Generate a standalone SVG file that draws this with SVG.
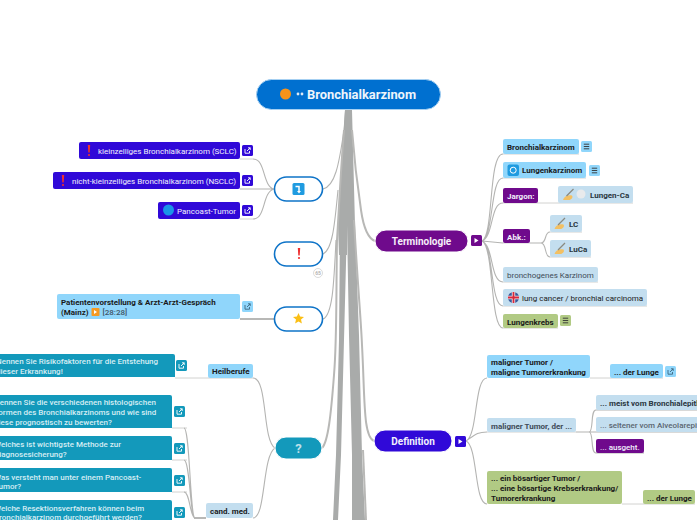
<svg xmlns="http://www.w3.org/2000/svg" width="697" height="520" viewBox="0 0 697 520">
<style>
text{font-family:"Roboto","Liberation Sans",sans-serif;font-size:8px;font-weight:500;fill:#1a1a1a}
.w{fill:#f2f0fc}.b{font-weight:700}.r{font-weight:400}.q{fill:#d6edf4}
.c{fill:none;stroke:#b4b4b2;stroke-width:1.1}.u{fill:none;stroke:#d2d2d0;stroke-width:1}.t{fill:#a9abaa}
.k{fill:none;stroke:#b8b8b6;stroke-width:2}
.blue{fill:#3009d8}.sky{fill:#90d6fb}.pale{fill:#c3deef}.pur{fill:#6f0a8c}.green{fill:#b1ca84}.teal{fill:#1399bb}
.bub{fill:#fff;stroke:#0f74c8;stroke-width:1.6}
.ic{fill:none;stroke:#fff;stroke-width:.9}
.ic2{fill:none;stroke:#3f6880;stroke-width:.9}
.d{fill:none;stroke:#333;stroke-width:.9}
</style>
<defs>
<g id="lnk"><rect width="11" height="11" rx="1.5"/><path class="ic" d="M3 4v4.2h4.5V6M5 6l3.2-3.2M6 2.800h2.200V5"/></g>
<g id="lnk2"><rect width="11" height="11" rx="1.5"/><path class="ic2" d="M3 4v4.2h4.5V6M5 6l3.2-3.2M6 2.800h2.200V5"/></g>
<g id="men"><rect width="11" height="11" rx="1.5"/><path class="d" d="M2.800 3.200h5.400M2.800 5.500h5.400M2.800 7.800h5.400"/></g>
<g id="hand"><path d="M0 11c1-4 5-5.500 9-4.500 1.500 2-1 4.500-3 4.500z" fill="#f3c063"/><path d="M3.500 7L10.500 0" stroke="#8a8a80" stroke-width="1.300"/></g>
</defs>
<g id="connectors">
<path class="t" d="M345 110h4l-2 115-3 115-3 115-3 65h-5l3-65 3-115 1-115 1-60z"/>
<path class="t" d="M347 110h5l3 115 4 110 3 120 3 65h-13l0-65-3-120-2-110z"/>
<path class="t" d="M345 110l-7 115 1 30h8l0-145z"/>
<path class="k" d="M344 130C340 180 339 210 337 240C336 300 337 340 334 375C331 415 328 442 322 448"/>
<path class="k" d="M352 130C355 170 358 190 361 210C363 224 367 238 375 241"/>
<path class="k" d="M354 220C358 290 361 320 362 345C365 400 363 436 374 441"/>
<path class="k" d="M363 450L366 520" stroke-width="1.400"/>
<path class="c" d="M344 130C339 165 335 186 323 189"/>
<path class="c" d="M338 190C335 220 333 250 323 254"/>
<path class="c" d="M336 240C334 280 333 315 323 319"/>
<path class="u" d="M240 159H253M240 219H253M175 378H253M172 428H187M172 460H187M172 492H187M579 154H503M586 178H503M530 243H503M598 282H503M647 306H503M558 328H503M633 203H503M582 232H550M591 257H550M590 378H663M576 432H487M622 504H695"/>
<path class="c" d="M274 189C262 186 266 159 253 159M274 189H240M274 189C262 192 266 219 253 219"/>
<path class="k" d="M274 319H240"/>
<path class="c" d="M275 448C262 440 268 378 253 378"/>
<path class="c" d="M275 448C262 456 266 518 253 518"/>
<path class="k" d="M206 518H194"/>
<path class="c" d="M195 518C190 518 190 428 184 428M195 518C190 518 190 460 184 460M195 518C190 518 190 492 184 492"/>
<path class="c" d="M482 241C494 236 488 154 503 154M482 241C494 236 490 178 503 178M482 241C494 236 490 203 503 203M482 241L503 243M482 241C494 246 490 282 503 282M482 241C494 246 490 306 503 306M482 241C494 246 490 328 503 328"/>
<path class="c" d="M530 243H541C547 243 544 232 550 232M541 243C547 243 544 257 550 257"/>
<path class="c" d="M466 441C478 436 474 378 487 378M466 441C476 434 478 432 487 432M466 441C478 446 474 504 487 504"/>
<path class="c" d="M576 432H589C594 432 590 410 596 410H697M589 432H697M589 432C594 432 590 453 596 453H644"/>
</g>
<g id="root"><rect x="256.500" y="79.500" width="184" height="30" rx="15" fill="#0070d0" stroke="#a6d0f2"/><circle cx="285.500" cy="94" r="5.500" fill="#f7931a"/><circle cx="298" cy="94" r="1.400" fill="#dfeaf5"/><circle cx="302" cy="94" r="1.400" fill="#dfeaf5"/><text x="307" y="98.500" style="font-size:12.900px;font-weight:700;fill:#eef5fb">Bronchialkarzinom</text></g>
<g id="n-icon"><rect class="bub" x="274.500" y="177" width="48" height="24" rx="12"/><rect x="292.500" y="183" width="12" height="12" rx="1.500" fill="#1f9be0"/><path d="M295.500 186.500h3.500v5" fill="none" stroke="#fff" stroke-width="1.500"/><path d="M297 191h4l-2 2.500z" fill="#fff"/></g>
<g id="n-excl"><rect class="bub" x="274.500" y="242" width="48" height="24" rx="12"/><path d="M297.800 248h2.400l-.5 7.500h-1.400z" fill="#ee3030"/><circle cx="299" cy="258" r="1.100" fill="#ee3030"/><circle cx="318" cy="273" r="4.500" fill="#fff" stroke="#ccc" stroke-width=".7"/><text x="318" y="275" text-anchor="middle" style="font-size:5px;fill:#aaa">65</text></g>
<g id="n-star"><rect class="bub" x="274.500" y="307" width="48" height="24" rx="12"/><path d="M298.500 313l1.600 3.600 3.900.4-3 2.600.9 3.800-3.400-2-3.400 2 .9-3.800-3-2.600 3.900-.4z" fill="#fbbf16"/></g>
<g id="n-sclc"><rect class="blue" x="79" y="142" width="161" height="17" rx="2"/><path d="M87.800 145h2.400l-.5 7.500h-1.400z" fill="#ee3030"/><circle cx="89" cy="155" r="1.100" fill="#ee3030"/><text class="w r" x="98" y="154">kleinzelliges Bronchialkarzinom (SCLC)</text><use href="#lnk" x="242" y="145" class="blue"/></g>
<g id="n-nsclc"><rect class="blue" x="53" y="172" width="187" height="17" rx="2"/><path d="M61.800 175h2.400l-.5 7.500h-1.400z" fill="#ee3030"/><circle cx="63" cy="185" r="1.100" fill="#ee3030"/><text class="w r" x="72" y="184">nicht-kleinzelliges Bronchialkarzinom (NSCLC)</text><use href="#lnk" x="242" y="175" class="blue"/></g>
<g id="n-panc"><rect class="blue" x="158" y="202" width="82" height="17" rx="2"/><circle cx="168.500" cy="210" r="5.500" fill="#1a94e8"/><text class="w r" x="177" y="214">Pancoast-Tumor</text><use href="#lnk" x="242" y="205" class="blue"/></g>
<g id="n-pat"><rect class="sky" x="57" y="294" width="183" height="25" rx="2"/><text class="b" x="61" y="304.500">Patientenvorstellung &amp; Arzt-Arzt-Gespräch</text><text class="b" x="61" y="314.500">(Mainz)</text><rect x="91.500" y="308" width="8" height="8" rx="1" fill="#f59a23"/><path d="M94 310v4l3-2z" fill="#fff"/><text x="102.500" y="314.500" style="fill:#3f5566">[28:28]</text><use href="#lnk2" x="242" y="301" class="sky"/></g>
<g id="n-q"><rect x="275" y="437" width="47" height="22" rx="11" fill="#1399bb" stroke="#fff"/><text x="298.500" y="453" text-anchor="middle" style="font-size:13px;font-weight:700;fill:#bfe0ea">?</text></g>
<g id="n-q1"><path class="teal" d="M0 354H173a2 2 0 0 1 2 2V377H0z"/><text class="q" x="-4" y="364">Nennen Sie Risikofaktoren für die Entstehung</text><text class="q" x="-4" y="373.500">dieser Erkrankung!</text><use href="#lnk" x="176" y="360" class="teal"/></g>
<g id="n-heil"><rect class="sky" x="208" y="364" width="45" height="14" rx="2"/><text class="b" x="212" y="374">Heilberufe</text></g>
<g id="n-q2"><path class="teal" d="M0 395H170a2 2 0 0 1 2 2V428H0z"/><text class="q" x="-6" y="405">Nennen Sie die verschiedenen histologischen</text><text class="q" x="-6" y="415">Formen des Bronchialkarzinoms und wie sind</text><text class="q" x="-6" y="425">diese prognostisch zu bewerten?</text><use href="#lnk" x="174" y="406" class="teal"/></g>
<g id="n-q3"><path class="teal" d="M0 436H170a2 2 0 0 1 2 2V460H0z"/><text class="q" x="-6" y="447">Welches ist wichtigste Methode zur</text><text class="q" x="-6" y="456.500">Diagnosesicherung?</text><use href="#lnk" x="174" y="443" class="teal"/></g>
<g id="n-q4"><path class="teal" d="M0 468H170a2 2 0 0 1 2 2V492H0z"/><text class="q" x="-6" y="479.500">Was versteht man unter einem Pancoast-</text><text class="q" x="-6" y="489">Tumor?</text><use href="#lnk" x="174" y="475" class="teal"/></g>
<g id="n-q5"><path class="teal" d="M0 500H170a2 2 0 0 1 2 2V530H0z"/><text class="q" x="-6" y="511">Welche Resektionsverfahren können beim</text><text class="q" x="-6" y="520">Bronchialkarzinom durchgeführt werden?</text><use href="#lnk" x="174" y="507" class="teal"/></g>
<g id="n-cand"><rect class="pale" x="206" y="503" width="47" height="15" rx="2"/><text class="b" x="210" y="513.500">cand. med.</text></g>
<g id="n-term"><rect x="375" y="230" width="93" height="22" rx="11" class="pur" stroke="#fff"/><text x="421.500" y="244.500" text-anchor="middle" style="font-size:10px;font-weight:700;fill:#f5eef8">Terminologie</text><rect class="pur" x="471" y="235" width="11" height="11" rx="1.500"/><path d="M474.500 238v5l4-2.500z" fill="#fff"/></g>
<g id="n-b1"><rect class="sky" x="503" y="139" width="76" height="15" rx="2"/><text class="b" x="507" y="149.500">Bronchialkarzinom</text><use href="#men" x="581" y="141" class="sky"/></g>
<g id="n-b2"><rect class="sky" x="503" y="162" width="83" height="16" rx="2"/><rect x="507.500" y="164.500" width="11.500" height="11.500" rx="2" fill="#1f9be0"/><circle cx="513.200" cy="170.200" r="3" fill="none" stroke="#fff"/><text class="b" x="522" y="173">Lungenkarzinom</text><use href="#men" x="589" y="165" class="sky"/></g>
<g id="n-jarg"><rect class="pur" x="503" y="188" width="35" height="15" rx="2"/><text class="w b" x="507" y="199">Jargon:</text></g>
<g id="n-lca"><rect class="pale" x="558" y="186" width="75" height="17" rx="2"/><use href="#hand" x="563" y="189"/><circle cx="581" cy="194" r="4.500" fill="#e8eaec"/><text class="b" style="fill:#2a3640" x="590" y="197.500">Lungen-Ca</text></g>
<g id="n-abk"><rect class="pur" x="503" y="229" width="27" height="14" rx="2"/><text class="w b" x="507" y="240">Abk.:</text></g>
<g id="n-lc"><rect class="pale" x="550" y="215" width="32" height="17" rx="2"/><use href="#hand" x="554.500" y="218"/><text class="b" style="fill:#2a3640" x="569" y="226.500">LC</text></g>
<g id="n-luca"><rect class="pale" x="550" y="240" width="41" height="17" rx="2"/><use href="#hand" x="554.500" y="243"/><text class="b" style="fill:#2a3640" x="569" y="251.500">LuCa</text></g>
<g id="n-bk"><rect class="pale" x="503" y="267" width="95" height="15" rx="2"/><text class="r" x="507" y="278" style="fill:#3f4c58">bronchogenes Karzinom</text></g>
<g id="n-lcb"><rect class="pale" x="503" y="289" width="144" height="17" rx="2"/><circle cx="513.500" cy="297.500" r="5.500" fill="#3a5a9a"/><path d="M508 297.500h11M513.500 292v11" stroke="#eee" stroke-width="3.400"/><path d="M508 297.500h11M513.500 292v11" stroke="#d8283c" stroke-width="1.800"/><text class="r" x="522" y="301">lung cancer / bronchial carcinoma</text></g>
<g id="n-lk"><rect class="green" x="503" y="314" width="55" height="14" rx="2"/><text class="b" x="507" y="324.500">Lungenkrebs</text><use href="#men" x="560" y="315" class="green"/></g>
<g id="n-def"><rect x="374" y="430" width="78" height="22" rx="11" class="blue" stroke="#fff"/><text x="413" y="444.500" text-anchor="middle" style="font-size:10px;font-weight:700;fill:#f2f0fc">Definition</text><rect class="blue" x="455" y="436" width="11" height="11" rx="1.500"/><path d="M458.500 439v5l4-2.500z" fill="#fff"/></g>
<g id="n-d1"><rect class="sky" x="487" y="355" width="103" height="23" rx="2"/><text class="b" x="491" y="365">maligner Tumor /</text><text class="b" x="491" y="375">maligne Tumorerkrankung</text></g>
<g id="n-d1a"><rect class="sky" x="610" y="364" width="53" height="14" rx="2"/><text class="b" x="614" y="375">... der Lunge</text><use href="#lnk2" x="665" y="366" class="sky"/></g>
<g id="n-d2"><rect class="pale" x="487" y="418" width="89" height="14" rx="2"/><text class="b" x="491" y="428.500" style="fill:#3f4c58">maligner Tumor, der ...</text></g>
<g id="n-d2a"><rect class="pale" x="596" y="395" width="103" height="15" rx="2"/><text class="b" x="600" y="405.500" style="fill:#2a3640">... meist vom Bronchialepithel</text></g>
<g id="n-d2b"><rect class="pale" x="596" y="417" width="103" height="15" rx="2"/><text x="600" y="427.500" style="fill:#5a6570">... seltener vom Alveolarepithel</text></g>
<g id="n-d2c"><rect class="pur" x="596" y="439" width="48" height="14" rx="2"/><text class="w" x="600" y="449.500">... ausgeht.</text></g>
<g id="n-d3"><rect class="green" x="487" y="471" width="135" height="33" rx="2"/><text class="b" x="491" y="481">... ein bösartiger Tumor /</text><text class="b" x="491" y="491">... eine bösartige Krebserkrankung/</text><text class="b" x="491" y="500.500">Tumorerkrankung</text></g>
<g id="n-d3a"><rect class="green" x="643" y="490" width="52" height="14" rx="2"/><text class="b" x="647" y="500.500">... der Lunge</text></g>
</svg>
